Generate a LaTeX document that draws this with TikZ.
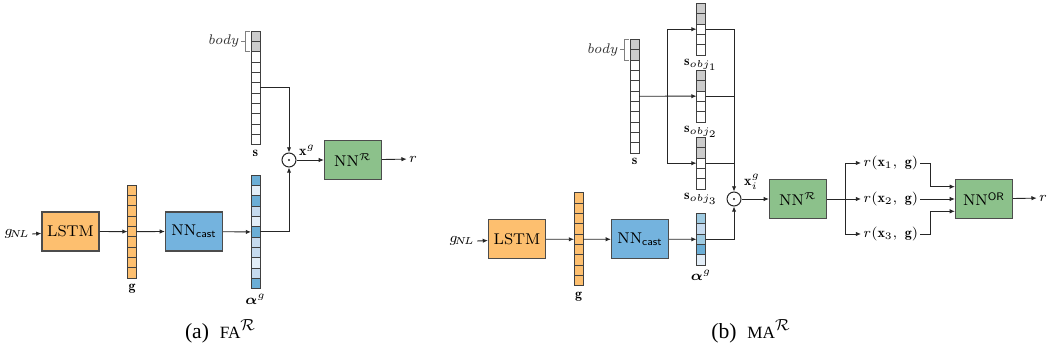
\documentclass[tikz,border=0pt]{standalone}
\usepackage{amsmath}
\usepackage{fontspec}
\usepackage{bm}
\newfontfamily\capfont{Liberation Serif}
\usetikzlibrary{positioning,arrows.meta}
\definecolor{lstmcol}{HTML}{FDBF6F}
\definecolor{castcol}{HTML}{74B3DE}
\definecolor{nncol}{HTML}{8CC18B}
\definecolor{bodycol}{HTML}{CCCCCC}
\definecolor{aD}{HTML}{6BAED6}
\definecolor{aM}{HTML}{9ECAE1}
\definecolor{aL}{HTML}{C6DBEF}
\definecolor{aV}{HTML}{E3EEF8}
\begin{document}
\begin{tikzpicture}[x=0.5pt, y=-0.5pt,
  box/.style = {draw=black!70, line width=0.6pt, minimum width=28.5pt, minimum height=19.5pt, inner sep=0pt, font=\fontsize{7.8}{9}\selectfont},
  cell/.style = {draw=black!75, line width=0.35pt, minimum width=4.5pt, minimum height=5.17pt, inner sep=0pt, outer sep=0pt},
  lab/.style = {inner sep=1pt, font=\fontsize{7}{8}\selectfont},
  arr/.style = {-{Latex[length=2.6pt,width=2.2pt]}, line width=0.45pt, draw=black!85},
  odot/.style = {draw=black!85, circle, line width=0.5pt, minimum size=7pt, inner sep=0pt},
  brk/.style = {draw=black!50, line width=0.4pt}]
\useasboundingbox (0,0) rectangle (1048,352);

% (a)
\node[lab] (gnla) at (17,234) {$g_{\!N\!L}$};
\node[box, fill=lstmcol] (lstma) at (70.5,231.5) {LSTM};
\foreach \i in {1,...,9} \node[cell, fill=lstmcol] (ga\i) at (132,{185+10.35*(\i-0.5)}) {};
\node[lab, below=2pt of ga9] (glaba) {$\mathbf{g}$};
\node[box, fill=castcol] (casta) at (194,231.5) {NN$_{\textsf{cast}}$};
\foreach \i/\c in {1/aD,2/aV,3/aD,4/aL,5/aV,6/aD,7/aL,8/aL,9/aV,10/aL,11/aD}
  \node[cell, fill=\c] (aa\i) at (255.5,{175+10.35*(\i-0.5)}) {};
\node[lab, below=1.5pt of aa11] (alaba) {$\bm{\alpha}^g$};
\foreach \i in {1,2} \node[cell, fill=bodycol] (sa\i) at (255.5,{31+10.35*(\i-0.5)}) {};
\foreach \i in {3,...,11} \node[cell, fill=white] (sa\i) at (255.5,{31+10.35*(\i-0.5)}) {};
\node[lab, below=1.5pt of sa11] (slaba) {$\mathbf{s}$};
\draw[brk] ([xshift=-0.5pt]sa1.north west) -| ([xshift=-3pt]sa2.south west) -- ([xshift=-0.5pt]sa2.south west);
\draw[brk] ([xshift=-3pt]sa1.south west) -- ++(-4,0) node[lab, left, text=black!80] (bodya) {\textit{body}};
\node[odot] (dota) at (289,160) {};
\fill[black!85] (dota.center) circle (0.55pt);
\node[lab] (xga) at (307,150) {$\mathbf{x}^g$};
\node[box, fill=nncol] (nnra) at (353,160) {NN$^{\mathcal{R}}$};
\node[lab] (ra) at (413,159) {$r$};

\draw[arr] (gnla.east) -- (lstma);
\draw[arr] (lstma) -- (ga5.west);
\draw[arr] (ga5.east) -- (casta);
\draw[arr] (casta) -- (aa6.west);
\draw[arr] (aa6.east) -| (dota);
\draw[arr] (sa6.east) -| (dota);
\draw[arr] (dota) -- (nnra);
\draw[arr] (nnra) -- (ra);

\node[font=\capfont\fontsize{10.8}{13}\selectfont] (capa) at (220.5,331) {(a)\enspace{\fontsize{8.6}{10}\selectfont FA}$^{\mathcal{R}}$};

% (b)
\node[lab] (gnlb) at (462,241) {$g_{\!N\!L}$};
\node[box, fill=lstmcol] (lstmb) at (517,239.3) {LSTM};
\foreach \i in {1,...,9} \node[cell, fill=lstmcol] (gb\i) at (578.5,{192.7+10.35*(\i-0.5)}) {};
\node[lab, below=2pt of gb9] (glabb) {$\mathbf{g}$};
\node[box, fill=castcol] (castb) at (640,239.3) {NN$_{\textsf{cast}}$};
\foreach \i/\c in {1/aM,2/aL,3/aM,4/aD,5/aV}
  \node[cell, fill=\c] (ab\i) at (701,{213.4+10.35*(\i-0.5)}) {};
\node[lab, below=1.5pt of ab5] (alabb) {$\bm{\alpha}^g$};
\foreach \i in {1,2} \node[cell, fill=bodycol] (sb\i) at (634.5,{39.3+10.35*(\i-0.5)}) {};
\foreach \i in {3,...,11} \node[cell, fill=white] (sb\i) at (634.5,{39.3+10.35*(\i-0.5)}) {};
\node[lab, below=1.5pt of sb11] (slabb) {$\mathbf{s}$};
\draw[brk] ([xshift=-0.5pt]sb1.north west) -| ([xshift=-3pt]sb2.south west) -- ([xshift=-0.5pt]sb2.south west);
\draw[brk] ([xshift=-3pt]sb1.south west) -- ++(-4,0) node[lab, left, text=black!80] (bodyb) {\textit{body}};
\foreach \k/\t in {1/3.3,2/70.3,3/137.3} {
  \foreach \i in {1,2} \node[cell, fill=bodycol] (o\k-\i) at (701,{\t+10.35*(\i-0.5)}) {};
  \foreach \i in {3,4,5} \node[cell, fill=white] (o\k-\i) at (701,{\t+10.35*(\i-0.5)}) {};
  \node[lab, below=1pt of o\k-5] (olab\k) {$\mathbf{s}_{obj_{\k}}$};
}
\node[odot] (dotb) at (734,199) {};
\fill[black!85] (dotb.center) circle (0.55pt);
\node[lab] (xgb) at (752,182) {$\mathbf{x}_i^{\raisebox{0.8pt}{$\scriptstyle g$}}$};
\node[box, fill=nncol] (nnrb) at (798,199) {NN$^{\mathcal{R}}$};
\node[lab, anchor=west] (rx1) at (861,163) {$r(\mathbf{x}_1,\;\mathbf{g})$};
\node[lab, anchor=west] (rx2) at (861,199) {$r(\mathbf{x}_2,\;\mathbf{g})$};
\node[lab, anchor=west] (rx3) at (861,234) {$r(\mathbf{x}_3,\;\mathbf{g})$};
\node[box, fill=nncol] (nnor) at (984,199) {NN$^{\textsf{OR}}$};
\node[lab] (rb) at (1043,198) {$r$};
\coordinate (splb) at (667,96.2);
\coordinate (brb) at (845,199);
\coordinate (mx) at (930,199);
\coordinate (in1) at ([yshift=6.15pt]nnor.west);
\coordinate (in3) at ([yshift=-6.15pt]nnor.west);

\draw[arr] (gnlb.east) -- (lstmb);
\draw[arr] (lstmb) -- (gb5.west);
\draw[arr] (gb5.east) -- (castb);
\draw[arr] (castb) -- (ab3.west);
\draw[arr] (ab3.east) -| (dotb);
\draw[arr] (sb6.east) -- (o2-3.west);
\draw[arr] (splb) |- (o1-3.west);
\draw[arr] (splb) |- (o3-3.west);
\draw[arr] (o1-3.east) -| (dotb);
\draw[black!85, line width=0.45pt] (o2-3.east) -- (o2-3.east -| dotb);
\draw[black!85, line width=0.45pt] (o3-3.east) -- (o3-3.east -| dotb);
\draw[arr] (dotb) -- (nnrb);
\draw[black!85, line width=0.45pt] (nnrb) -- (brb);
\draw[arr] (brb) |- (rx1.west);
\draw[arr] (brb) -- (rx2.west);
\draw[arr] (brb) |- (rx3.west);
\draw[arr] (rx1.east) -| (in1 -| mx) -- (in1);
\draw[arr] (rx2.east) -- (nnor.west);
\draw[arr] (rx3.east) -| (in3 -| mx) -- (in3);
\draw[arr] (nnor) -- (rb);

\node[font=\capfont\fontsize{10.8}{13}\selectfont] (capb) at (751,331) {(b)\enspace{\fontsize{8.6}{10}\selectfont MA}$^{\mathcal{R}}$};
\end{tikzpicture}
\end{document}
